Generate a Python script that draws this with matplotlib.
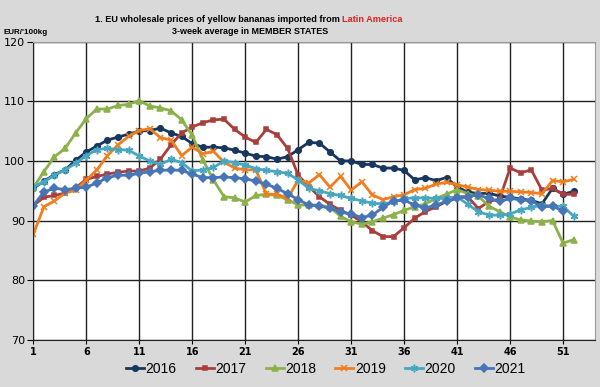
import numpy as np
import matplotlib.pyplot as plt

weeks = np.arange(1, 53)

p2016 = [95.4, 96.6, 97.7, 98.5, 100.1, 101.5, 102.5, 103.5, 104.0, 104.5,
         105.0, 105.1, 105.5, 104.7, 104.1, 102.9, 102.3, 102.3, 102.2, 101.8,
         101.3, 100.8, 100.7, 100.3, 100.7, 101.9, 103.1, 103.0, 101.5, 100.0,
         100.0, 99.4, 99.4, 98.8, 98.8, 98.4, 96.8, 97.2, 96.7, 97.2,
         95.6, 94.8, 94.5, 94.6, 94.1, 93.9, 93.6, 93.4, 92.8, 95.4,
         94.4, 94.9]
p2017 = [92.5, 93.9, 94.2, 94.6, 95.5, 96.9, 97.4, 97.8, 98.1, 98.3,
         98.3, 98.8, 100.3, 102.7, 104.7, 105.7, 106.4, 106.9, 107.0, 105.3,
         104.0, 103.1, 105.3, 104.4, 102.1, 97.6, 95.7, 94.0, 92.7, 91.7,
         90.9, 89.8, 88.3, 87.3, 87.3, 88.8, 90.4, 91.5, 92.3, 93.2,
         94.0, 94.0, 92.0, 93.2, 93.6, 98.8, 98.0, 98.5, 95.1, 95.4,
         94.4, 94.4]
p2018 = [95.5, 98.2, 100.7, 102.1, 104.7, 107.1, 108.7, 108.7, 109.3, 109.5,
         110.1, 109.2, 108.9, 108.4, 106.9, 104.3, 100.2, 96.8, 94.0, 93.8,
         93.1, 94.2, 94.4, 94.2, 93.5, 92.6, 92.6, 92.6, 92.2, 90.7,
         89.8, 89.4, 89.8, 90.4, 91.0, 91.7, 92.3, 92.8, 93.7, 94.4,
         95.2, 94.5, 94.1, 92.4, 91.5, 90.6, 90.1, 89.9, 89.8, 90.0,
         86.2, 86.8]
p2019 = [87.7, 92.3, 93.3, 94.6, 95.1, 96.8, 98.5, 100.9, 102.7, 104.1,
         105.1, 105.4, 103.9, 103.5, 100.9, 102.3, 101.2, 101.6, 99.8, 98.8,
         98.5, 98.5, 94.4, 94.4, 93.7, 96.8, 96.3, 97.7, 95.6, 97.4,
         95.1, 96.5, 94.3, 93.5, 94.0, 94.3, 95.2, 95.4, 96.1, 96.4,
         96.0, 95.6, 95.2, 95.1, 94.9, 94.9, 94.8, 94.7, 94.5, 96.7,
         96.5, 96.9]
p2020 = [95.6, 96.5, 97.6, 98.5, 99.6, 100.9, 101.9, 102.1, 101.9, 101.8,
         100.8, 100.0, 99.4, 100.3, 99.7, 98.3, 98.5, 98.9, 100.0, 99.7,
         99.3, 98.7, 98.4, 98.2, 97.9, 96.8, 95.4, 95.0, 94.5, 94.2,
         93.7, 93.3, 92.9, 92.8, 93.1, 93.7, 93.8, 93.8, 93.7, 93.7,
         94.0, 92.7, 91.5, 90.9, 90.9, 91.1, 91.8, 92.2, 92.6, 92.4,
         92.4, 90.7]
p2021 = [92.5, 94.8, 95.4, 95.2, 95.4, 95.6, 96.3, 97.2, 97.6, 97.6,
         97.9, 98.2, 98.4, 98.5, 98.4, 97.8, 97.2, 97.2, 97.3, 97.2,
         97.0, 96.6, 96.1, 95.4, 94.5, 93.5, 92.6, 92.4, 92.1, 91.4,
         91.1, 90.5, 90.9, 92.2, 93.3, 93.4, 92.6, 92.1, 92.6, 93.2,
         93.7, 94.0, 94.3, 93.7, 93.2, 93.7, 93.5, 93.3, 92.3, 92.4,
         91.6]

series = [
    ('2016', p2016, '#17375E', 'o', 4),
    ('2017', p2017, '#A93F3C', 's', 3),
    ('2018', p2018, '#8CB14A', '^', 4.5),
    ('2019', p2019, '#F07E1E', 'x', 4.5),
    ('2020', p2020, '#48A7C0', (6, 2, 0), 5.5),
    ('2021', p2021, '#4775B6', 'D', 4),
]

fig = plt.figure(figsize=(6, 3.87), dpi=100, facecolor='#d9d9d9')
ax = fig.add_axes([0.0555, 0.1222, 0.936, 0.770])
ax.set_facecolor('white')

for name, vals, col, mk, ms in series:
    ax.plot(weeks[:len(vals)], vals, color=col, marker=mk, markersize=ms,
            linewidth=2, markeredgewidth=1.1, label=name)

ax.set_xlim(1, 54)
ax.set_ylim(70, 120)
ax.set_xticks(np.arange(1, 52, 5))
ax.set_yticks(np.arange(70, 121, 10))
ax.tick_params(axis='x', labelsize=7, length=3, pad=2)
ax.tick_params(axis='y', labelsize=8, length=4, pad=2)
for lbl in ax.get_xticklabels():
    lbl.set_fontweight('bold')
ax.grid(True, color='#222222', linewidth=1)
ax.set_axisbelow(True)
for s in ['top', 'right']:
    ax.spines[s].set_color('#999999')
ax.spines['left'].set_color('#222222')
ax.spines['bottom'].set_color('#222222')

# title, with the region in red
fig.text(340 / 600, 1 - 19 / 387, '1. EU wholesale prices of yellow bananas imported from',
         ha='right', va='center', fontsize=6.6, fontweight='bold', family='Liberation Sans')
fig.text(342 / 600, 1 - 19 / 387, 'Latin America', ha='left', va='center',
         fontsize=6.6, fontweight='bold', color='#e02020', family='Liberation Sans')
fig.text(250 / 600, 1 - 32 / 387, '3-week average in MEMBER STATES', ha='center',
         va='center', fontsize=6.5, fontweight='bold', family='Liberation Sans')
fig.text(4 / 600, 1 - 33 / 387, "EUR/'100kg", ha='left', va='center',
         fontsize=5.8, fontweight='bold', family='Liberation Sans')

fig.legend(loc='center', bbox_to_anchor=(0.543, 1 - 369 / 387), ncol=6,
           frameon=False, handlelength=1.3, handletextpad=0.1,
           columnspacing=1.4, prop={'family': 'Liberation Sans', 'size': 10})

plt.savefig('out.png', dpi=100, facecolor=fig.get_facecolor())
